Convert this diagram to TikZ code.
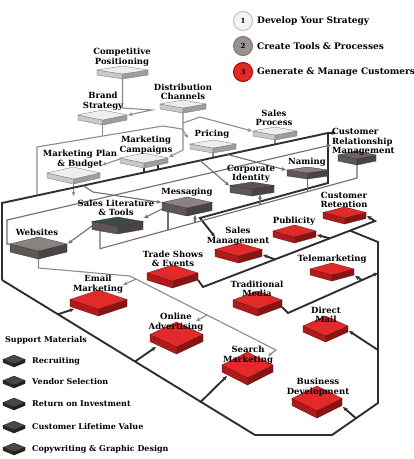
\documentclass[tikz,border=0pt]{standalone}
\usepackage{fontspec}
\setmainfont{DejaVu Serif}
\usetikzlibrary{arrows.meta}
\definecolor{ltop}{HTML}{EEEEEE}
\definecolor{lside}{HTML}{C9C9C9}
\definecolor{gtop}{HTML}{8A8381}
\definecolor{gside}{HTML}{5E5756}
\definecolor{corptop}{HTML}{5F5252}
\definecolor{crmtop}{HTML}{6C6464}
\definecolor{sltop}{HTML}{3E4B45}
\definecolor{rtop}{HTML}{E22A2A}
\definecolor{rside}{HTML}{B01A1A}
\definecolor{stop}{HTML}{4D4545}
\definecolor{sside}{HTML}{2E2828}
\definecolor{stratc}{HTML}{8C8C8C}
\definecolor{toolc}{HTML}{6E6E6E}
\definecolor{thkc}{HTML}{2F2F2F}
\definecolor{c2fill}{HTML}{9A9191}
\newcommand\isobox[8]{%
  \pgfmathsetmacro\ibcx{(#2+#3)/2}%
  \pgfmathsetmacro\ibyc{(#4+#5-#6)/2}%
  \pgfmathsetmacro\ibyb{#5-#6}%
  \pgfmathsetmacro\ibycd{\ibyc+#6}%
  \filldraw[draw=#8!55!black, line width=0.3pt, fill=#8] (#2,\ibyc) -- (\ibcx,\ibyb) -- (\ibcx,#5) -- (#2,\ibycd) -- cycle;
  \filldraw[draw=#8!55!black, line width=0.3pt, fill=#8!78!black] (\ibcx,\ibyb) -- (#3,\ibyc) -- (#3,\ibycd) -- (\ibcx,#5) -- cycle;
  \filldraw[draw=#8!55!black, line width=0.3pt, fill=#7] (#2,\ibyc) -- (\ibcx,#4) -- (#3,\ibyc) -- (\ibcx,\ibyb) -- cycle;
  \coordinate (#1-L) at (#2,\ibyc);
  \coordinate (#1-R) at (#3,\ibyc);
  \coordinate (#1-T) at (\ibcx,#4);
  \coordinate (#1-B) at (\ibcx,#5);
  \node[inner sep=0, minimum size=0] (#1) at (\ibcx,\ibyc) {};
}
\tikzset{
  lbl/.style={font=\bfseries\fontsize{8.5}{9.5}\selectfont, align=center, inner sep=0},
  lgd/.style={font=\bfseries\fontsize{9}{10}\selectfont, inner sep=0, anchor=west},
  sup/.style={font=\bfseries\fontsize{8}{9}\selectfont, inner sep=0, anchor=west},
  strat/.style={draw=stratc, line width=1.1pt},
  tool/.style={draw=toolc, line width=1.1pt},
  thk/.style={draw=thkc, line width=1.9pt},
  numc/.style={circle, line width=1pt, minimum size=19pt, inner sep=0, font=\bfseries\fontsize{7}{7}\selectfont},
  >={Stealth[length=4.5pt,width=4pt]}
}
\begin{document}
\begin{tikzpicture}[x=1pt,y=-1pt]
\useasboundingbox (0,0) rectangle (414,459);
\fill[white] (0,0) rectangle (414,459);

% ---------- connectors (behind boxes) ----------
% strategy
\draw[strat,->] (122.5,79) -- (122.5,108) -- (152,110) -- (128,115);
\draw[strat,->] (37,195) -- (37,147) -- (163,126) -- (182,129) -- (188,138);
\draw[strat] (102.5,125) -- (102.5,136);
\draw[strat,->] (183,113) -- (183,150) -- (169,157);
\draw[strat,->] (183,123) -- (200,117) -- (252,131);
\draw[strat,->] (120,159) -- (102,165);
\draw[strat,->] (73.5,184) -- (73.5,196);
\draw[strat] (213,153) -- (213,157.7);
\draw[strat] (275,140) -- (275,144.4);

% main thick frame
\draw[thk,->] (2,280) -- (2,203) -- (328,133) -- (336,133);
\draw[thk] (144,168) -- (144,172.5);
\draw[thk] (158,165) -- (158,169.5);
\draw[thk,->] (328,133) -- (328,183) -- (200,218) -- (215,237);
\draw[thk] (2,280) -- (255,435) -- (332,435) -- (378,403) -- (378,242) -- (350,230.6);

% tools web
\draw[tool,->] (10,244) -- (7,244) -- (7,220) -- (322,147) -- (331,145);
\draw[tool,->] (83,185.6) -- (93,192) -- (161,202.5);
\draw[tool,->] (200,160.5) -- (229,185.5);
\draw[tool,->] (228,154.6) -- (286,170);
\draw[tool,->] (162,209) -- (144,218);
\draw[tool,->] (92,226) -- (68,243.5);
\draw[tool] (357,165) -- (357,178) -- (100,248.7) -- (100,231);
\draw[tool] (168,212) -- (168,230.2);
\draw[tool,->] (195,222.6) -- (195,215);
\draw[tool,->] (260,204.7) -- (260,194.5);
\draw[tool] (307.5,179) -- (307.5,191.7);

% websites line
\draw[strat,->] (38.5,259) -- (38.5,268) -- (130,276) -- (276,350) -- (268,356);
\draw[strat,->] (136,279) -- (123,285);
\draw[strat,->] (207,315) -- (196,321);

% red network
\draw[thk,->] (198,280) -- (203,287) -- (375,221) -- (367,216);
\draw[thk,->] (275,259.4) -- (263,255);
\draw[thk,->] (330,238.3) -- (317,235);
\draw[thk,->] (282,307) -- (288,313) -- (378,273) ;
\draw[thk,->] (362,280.1) -- (355,276);
\draw[thk,->] (378,350) -- (349,331);
\draw[thk,->] (356,418.3) -- (343,407);
\draw[thk,->] (200,402.5) -- (227,376);
\draw[thk,->] (135,361.5) -- (156,347);
\draw[thk,->] (58,314.3) -- (74,309);

% ---------- boxes ----------
\isobox{comp}{97}{148}{66}{79}{5}{ltop}{lside}
\isobox{brand}{78}{127}{110}{125}{5}{ltop}{lside}
\isobox{dist}{160}{206}{100}{113}{5}{ltop}{lside}
\isobox{pricing}{190}{236}{140}{153}{5}{ltop}{lside}
\isobox{sp}{253}{297}{127}{140}{5}{ltop}{lside}
\isobox{mc}{120}{168}{153}{168}{5}{ltop}{lside}
\isobox{mp}{47}{100}{167}{184}{5}{ltop}{lside}

\isobox{corp}{230}{274}{182}{196}{7}{corptop}{gside}
\isobox{naming}{287}{328}{167}{179}{6}{gtop}{gside}
\isobox{crm}{338}{376}{151}{165}{6}{crmtop}{gside}
\isobox{msg}{162}{212}{197}{216}{8}{gtop}{gside}
\isobox{slit}{92}{143}{217}{234}{8}{sltop}{gside}
\isobox{web}{10}{67}{237}{259}{8}{gtop}{gside}

\isobox{ret}{323}{366}{207}{224}{6}{rtop}{rside}
\isobox{pub}{273}{316}{225}{243}{6}{rtop}{rside}
\isobox{smg}{215}{262}{243}{263}{7}{rtop}{rside}
\isobox{tele}{310}{354}{263}{281}{6}{rtop}{rside}
\isobox{trade}{147}{198}{265}{288}{7}{rtop}{rside}
\isobox{tmed}{233}{282}{291}{316}{7}{rtop}{rside}
\isobox{email}{70}{127}{290}{316}{7}{rtop}{rside}
\isobox{online}{150}{203}{322}{354}{7}{rtop}{rside}
\isobox{dmail}{303}{348}{316}{342}{6}{rtop}{rside}
\isobox{search}{222}{273}{352}{385}{7}{rtop}{rside}
\isobox{bizdev}{292}{342}{386}{418}{7}{rtop}{rside}

\isobox{s1}{3}{25}{355}{367}{3}{stop}{sside}
\isobox{s2}{3}{25}{376}{388}{3}{stop}{sside}
\isobox{s3}{3}{25}{398}{410}{3}{stop}{sside}
\isobox{s4}{3}{25}{421}{433}{3}{stop}{sside}
\isobox{s5}{3}{25}{443}{455}{3}{stop}{sside}

% ---------- labels ----------
\node[lbl] (tcomp) at (122,57) {Competitive\\Positioning};
\node[lbl] (tbrand) at (103,101) {Brand\\Strategy};
\node[lbl] (tdist) at (183,92) {Distribution\\Channels};
\node[lbl] (tpricing) at (212,134) {Pricing};
\node[lbl] (tsp) at (274,118) {Sales\\Process};
\node[lbl] (tmc) at (146,145) {Marketing\\Campaigns};
\node[lbl] (tmp) at (80,159) {Marketing Plan\\\& Budget};
\node[lbl] (tcorp) at (251,174) {Corporate\\Identity};
\node[lbl] (tnaming) at (307,162) {Naming};
\node[lbl, align=left, anchor=west] (tcrm) at (332,142) {Customer\\Relationship\\Management};
\node[lbl] (tmsg) at (187,192) {Messaging};
\node[lbl] (tslit) at (116,208) {Sales Literature\\\& Tools};
\node[lbl] (tweb) at (37,232) {Websites};
\node[lbl] (tret) at (344,200) {Customer\\Retention};
\node[lbl] (tpub) at (294,221) {Publicity};
\node[lbl] (tsmg) at (238,236) {Sales\\Management};
\node[lbl] (ttele) at (332,259) {Telemarketing};
\node[lbl] (ttrade) at (173,259) {Trade Shows\\\& Events};
\node[lbl] (ttmed) at (257,289) {Traditional\\Media};
\node[lbl] (temail) at (98,284) {Email\\Marketing};
\node[lbl] (tonline) at (176,322) {Online\\Advertising};
\node[lbl] (tdmail) at (326,315) {Direct\\Mail};
\node[lbl] (tsearch) at (248,355) {Search\\Marketing};
\node[lbl] (tbiz) at (318,387) {Business\\Development};

% legend
\node[numc, draw=gray!50, fill=gray!8] (c1) at (243,21) {1};
\node[lgd] (l1) at (257,21) {Develop Your Strategy};
\node[numc, draw=c2fill!80!black, fill=c2fill] (c2) at (243,46) {2};
\node[lgd] (l2) at (257,46) {Create Tools \& Processes};
\node[numc, draw=red!70!black, fill=rtop] (c3) at (243,72) {3};
\node[lgd] (l3) at (257,72) {Generate \& Manage Customers};

% support materials
\node[sup] (suph) at (5,340) {Support Materials};
\node[sup] (sup1) at (32,361) {Recruiting};
\node[sup] (sup2) at (32,382) {Vendor Selection};
\node[sup] (sup3) at (32,404) {Return on Investment};
\node[sup] (sup4) at (32,427) {Customer Lifetime Value};
\node[sup] (sup5) at (32,449) {Copywriting \& Graphic Design};
\end{tikzpicture}
\end{document}
